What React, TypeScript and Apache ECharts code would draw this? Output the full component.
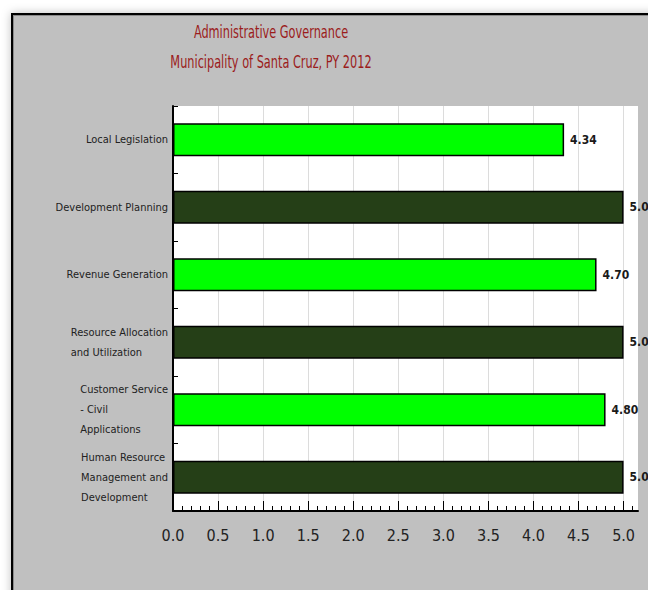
import React, { useEffect, useRef } from 'react';
import * as echarts from 'echarts';

const titleLines = ['Administrative Governance', 'Municipality of Santa Cruz, PY 2012'];
const categories = [
  'Local Legislation',
  'Development Planning',
  'Revenue Generation',
  'Resource Allocation\nand Utilization',
  'Customer Service\n- Civil\nApplications',
  'Human Resource\nManagement and\nDevelopment',
];
const values = [4.34, 5.0, 4.7, 5.0, 4.8, 5.0];
const xTickLabels = ['0.0', '0.5', '1.0', '1.5', '2.0', '2.5', '3.0', '3.5', '4.0', '4.5', '5.0'];
const xMin = 0;
const xMax = 5.16;
const minorStep = 0.1;
const barColors = ['#00ff00', '#253f17'];

const NARROW = '"Liberation Sans Narrow", "DejaVu Sans Condensed", "Arial Narrow", sans-serif';

export default function App() {
  const ref = useRef<HTMLDivElement>(null);
  useEffect(() => {
    if (!ref.current) return;
    const chart = echarts.init(ref.current, undefined, { renderer: 'svg' });
    const majorVals = xTickLabels.map(Number);
    const minorVals: number[] = [];
    for (let i = 1; i * minorStep < xMax - 1e-9; i++) {
      const v = Math.round(i * minorStep * 10) / 10;
      if (!majorVals.some((m) => Math.abs(m - v) < 1e-9)) minorVals.push(v);
    }
    chart.setOption({
      animation: false,
      backgroundColor: '#ffffff',
      graphic: [
        {
          type: 'rect',
          silent: true,
          z: -10,
          shape: { x: 11, y: 13, width: 660, height: 600 },
          style: { fill: '#c0c0c0', shadowBlur: 10, shadowColor: 'rgba(0,0,0,0.25)' },
        },
        {
          type: 'line',
          silent: true,
          z: -9,
          shape: { x1: 11, y1: 14, x2: 660, y2: 14 },
          style: { stroke: '#000', lineWidth: 2 },
        },
        {
          type: 'line',
          silent: true,
          z: -9,
          shape: { x1: 12, y1: 13, x2: 12, y2: 600 },
          style: { stroke: '#000', lineWidth: 2 },
        },
        {
          type: 'line',
          silent: true,
          z: -9,
          shape: { x1: 13, y1: 15.5, x2: 660, y2: 15.5 },
          style: { stroke: '#8a8a8a', lineWidth: 1 },
        },
        {
          type: 'line',
          silent: true,
          z: -9,
          shape: { x1: 13.5, y1: 15, x2: 13.5, y2: 600 },
          style: { stroke: '#8a8a8a', lineWidth: 1 },
        },
        ...titleLines.map((t, i) => ({
          type: 'text',
          silent: true,
          x: 271,
          y: 32 + i * 30,
          scaleX: 0.7,
          style: {
            text: t,
            fill: '#9b1c1c',
            font: `normal 18px ${NARROW}`,
            align: 'center',
            verticalAlign: 'middle',
          },
        })),
      ],
      grid: {
        left: 173,
        top: 106,
        right: 10,
        bottom: 79,
        show: true,
        backgroundColor: '#ffffff',
        borderWidth: 0,
        containLabel: false,
      },
      xAxis: [
        {
          type: 'value',
          position: 'bottom',
          min: xMin,
          max: xMax,
          interval: 0.5,
          axisLine: { show: true, lineStyle: { color: '#000', width: 2 } },
          axisTick: { show: true, inside: true, length: 10, customValues: majorVals, lineStyle: { color: '#000', width: 1 } },
          axisLabel: {
            customValues: majorVals,
            formatter: (v: number) => v.toFixed(1),
            margin: 16,
            fontSize: 16,
            fontFamily: NARROW,
            color: '#222',
          },
          splitLine: { show: true, lineStyle: { color: '#dcdcdc', width: 1 } },
        },
        {
          type: 'value',
          position: 'bottom',
          min: xMin,
          max: xMax,
          interval: minorStep,
          axisLine: { show: false },
          axisTick: { show: true, inside: true, length: 5, customValues: minorVals, lineStyle: { color: '#000', width: 1 } },
          axisLabel: { show: false },
          splitLine: { show: false },
        },
      ],
      yAxis: {
        type: 'category',
        inverse: true,
        data: categories,
        axisLine: { show: true, lineStyle: { color: '#000', width: 2 } },
        axisTick: { show: true, inside: true, length: 5, alignWithLabel: false, lineStyle: { color: '#000' } },
        axisLabel: {
          margin: 5,
          formatter: (v: string) => v.split('\n').map((l) => `{a|${l}}`).join('\n'),
          rich: {
            a: {
              align: 'left',
              fontSize: 11,
              lineHeight: 20,
              fontFamily: NARROW,
              color: '#222',
            },
          },
        },
        splitLine: { show: false },
      },
      series: [
        {
          type: 'bar',
          xAxisIndex: 0,
          data: values,
          barWidth: '49%',
          itemStyle: {
            color: (p: any) => barColors[p.dataIndex % 2],
            borderColor: '#000',
            borderWidth: 1.5,
          },
          label: {
            show: true,
            position: 'right',
            distance: 6,
            formatter: (p: any) => Number(p.value).toFixed(2),
            fontSize: 12,
            fontWeight: 'bold',
            fontFamily: NARROW,
            color: '#1a1a1a',
          },
        },
      ],
    });
    return () => chart.dispose();
  }, []);
  return (
    <div
      ref={ref}
      style={{ position: 'absolute', left: 0, top: 0, width: 648, height: 590, overflow: 'hidden' }}
    />
  );
}
